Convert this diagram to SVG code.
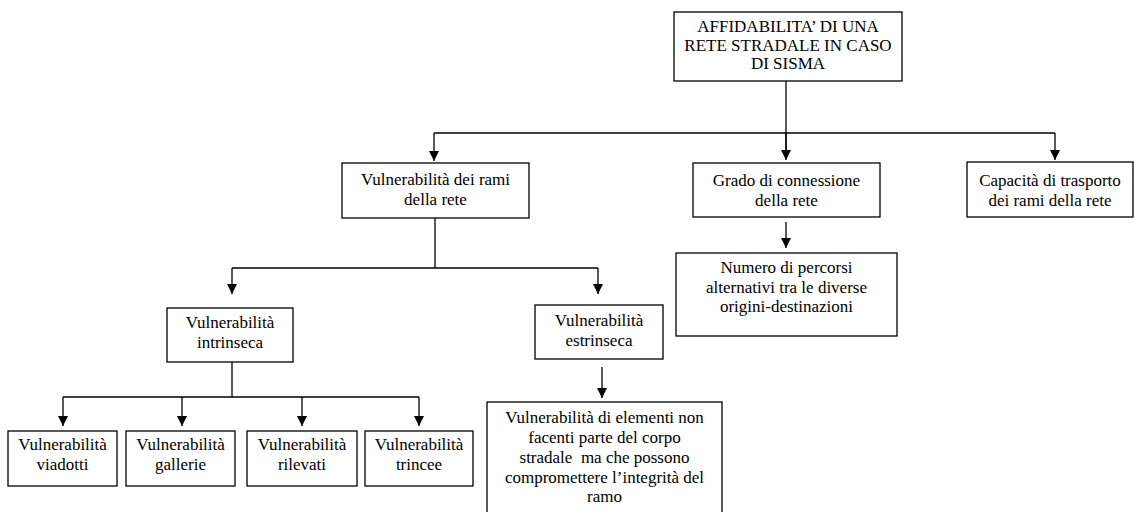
<svg xmlns="http://www.w3.org/2000/svg" width="1134" height="512" viewBox="0 0 1134 512">
<style>
.box{fill:#fff;stroke:#000;stroke-width:1.3}
text{font-family:'Liberation Serif','Times New Roman','DejaVu Serif',serif;font-size:17px;fill:#000;text-anchor:middle}
.c{fill:none;stroke:#000;stroke-width:1.3}
</style>
<defs>
<marker id="ah" markerUnits="userSpaceOnUse" markerWidth="11" markerHeight="10" refX="10" refY="5" orient="auto" viewBox="0 0 11 10">
<path d="M0,0 L10,5 L0,10 Z" fill="#000"/>
</marker>
</defs>
<rect width="1134" height="512" fill="#fff"/>
<g id="connectors">
<path class="c" d="M786,81 V159"/>
<path class="c" d="M434,133 H1055"/>
<path class="c" d="M434,133 V161" marker-end="url(#ah)"/>
<path class="c" d="M786,133 V160" marker-end="url(#ah)"/>
<path class="c" d="M1055,133 V160" marker-end="url(#ah)"/>
<path class="c" d="M435,218 V268"/>
<path class="c" d="M232,268 H598"/>
<path class="c" d="M232,268 V294" marker-end="url(#ah)"/>
<path class="c" d="M598,268 V294" marker-end="url(#ah)"/>
<path class="c" d="M786,222 V248" marker-end="url(#ah)"/>
<path class="c" d="M232,362 V397"/>
<path class="c" d="M63,397 H419"/>
<path class="c" d="M63,397 V426" marker-end="url(#ah)"/>
<path class="c" d="M182,397 V426" marker-end="url(#ah)"/>
<path class="c" d="M302,397 V426" marker-end="url(#ah)"/>
<path class="c" d="M419,397 V426" marker-end="url(#ah)"/>
<path class="c" d="M602,367 V398" marker-end="url(#ah)"/>
</g>
<g id="n-top"><rect class="box" x="674" y="12" width="228" height="69"/>
<text x="788" y="32" font-size="16">AFFIDABILITA’ DI UNA</text>
<text x="788" y="50.5" font-size="16">RETE STRADALE IN CASO</text>
<text x="788" y="69" font-size="16">DI SISMA</text></g>
<g id="n-rami"><rect class="box" x="342" y="163" width="187" height="55"/>
<text x="435.5" y="185">Vulnerabilità dei rami</text>
<text x="435.5" y="205">della rete</text></g>
<g id="n-grado"><rect class="box" x="693" y="163" width="187" height="54"/>
<text x="786.5" y="186">Grado di connessione</text>
<text x="786.5" y="205.5">della rete</text></g>
<g id="n-capacita"><rect class="box" x="967" y="162" width="166" height="55"/>
<text x="1050" y="186">Capacità di trasporto</text>
<text x="1050" y="205.5">dei rami della rete</text></g>
<g id="n-numero"><rect class="box" x="676" y="253" width="221" height="83"/>
<text x="786.5" y="273">Numero di percorsi</text>
<text x="786.5" y="292.5">alternativi tra le diverse</text>
<text x="786.5" y="312">origini-destinazioni</text></g>
<g id="n-intrinseca"><rect class="box" x="167" y="308" width="126" height="54"/>
<text x="230" y="328">Vulnerabilità</text>
<text x="230" y="348">intrinseca</text></g>
<g id="n-estrinseca"><rect class="box" x="535" y="305" width="128" height="54"/>
<text x="599" y="326">Vulnerabilità</text>
<text x="599" y="346">estrinseca</text></g>
<g id="n-viadotti"><rect class="box" x="8" y="431" width="109" height="55"/>
<text x="62.5" y="450">Vulnerabilità</text>
<text x="62.5" y="470">viadotti</text></g>
<g id="n-gallerie"><rect class="box" x="126" y="431" width="109" height="55"/>
<text x="180.5" y="450">Vulnerabilità</text>
<text x="180.5" y="470">gallerie</text></g>
<g id="n-rilevati"><rect class="box" x="247" y="431" width="110" height="55"/>
<text x="302" y="450">Vulnerabilità</text>
<text x="302" y="470">rilevati</text></g>
<g id="n-trincee"><rect class="box" x="365" y="431" width="108" height="55"/>
<text x="419" y="450">Vulnerabilità</text>
<text x="419" y="470">trincee</text></g>
<g id="n-elementi"><rect class="box" x="487" y="402" width="235" height="120"/>
<text x="604.5" y="423">Vulnerabilità di elementi non</text>
<text x="604.5" y="443">facenti parte del corpo</text>
<text x="604.5" y="463">stradale&#160; ma che possono</text>
<text x="604.5" y="482.5">compromettere l’integrità del</text>
<text x="604.5" y="502">ramo</text></g>
</svg>
